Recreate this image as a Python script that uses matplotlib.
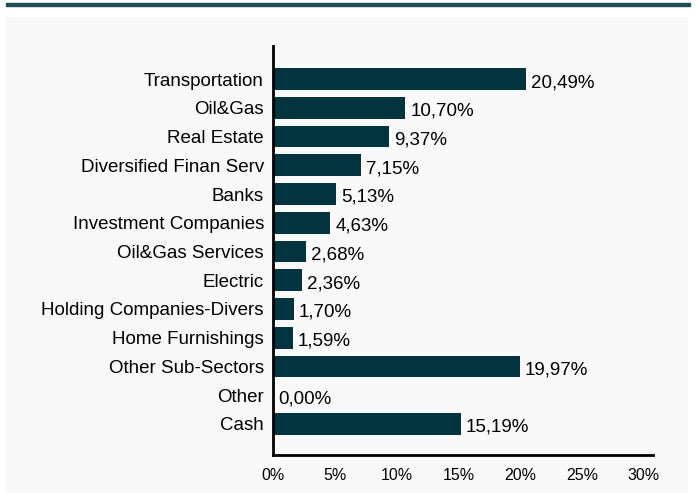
import matplotlib
matplotlib.use("Agg")
import matplotlib.pyplot as plt
from matplotlib.patches import Rectangle

# sector weights (%)
sectors = ["Transportation", "Oil&Gas", "Real Estate", "Diversified Finan Serv", "Banks",
           "Investment Companies", "Oil&Gas Services", "Electric", "Holding Companies-Divers",
           "Home Furnishings", "Other Sub-Sectors", "Other", "Cash"]
weights = [20.49, 10.70, 9.37, 7.15, 5.13, 4.63, 2.68, 2.36, 1.70, 1.59, 19.97, 0.00, 15.19]
xticks = [0, 5, 10, 15, 20, 25, 30]

bar_col = "#023440"
W, H = 697, 493

plt.rcParams['font.family'] = ['Liberation Sans', 'DejaVu Sans']

fig = plt.figure(figsize=(W / 100, H / 100), dpi=100)
fig.patch.set_facecolor("white")

# light panel and top rule
fig.patches.append(Rectangle((6 / W, 0), (687 - 6) / W, (H - 17) / H,
                             transform=fig.transFigure, color="#f9f9f9", zorder=-2))
fig.patches.append(Rectangle((6 / W, 1 - 6 / H), (690 - 6) / W, 3 / H,
                             transform=fig.transFigure, color="#1f4e55", zorder=-1))

ax = fig.add_axes([273 / W, 1 - 455 / H, (653 - 273) / W, (455 - 46) / H])
ax.set_facecolor("none")
ax.set_zorder(2)

y = list(range(len(sectors)))
ax.barh(y, weights, height=0.76, color=bar_col)
for yi, v in zip(y, weights):
    ax.text(v + 0.4, yi + 0.12, f"{v:.2f}%".replace(".", ","), va="center",
            ha="left", fontsize=13.5)

ax.set_yticks(y)
ax.set_yticklabels(sectors, fontsize=13.5)
ax.set_xticks(xticks)
ax.set_xticklabels([f"{t}%" for t in xticks], fontsize=11.5)
ax.set_xlim(0, 30.74)
ax.set_ylim(13.08, -1.15)

for s in ["top", "right"]:
    ax.spines[s].set_visible(False)
for s in ["left", "bottom"]:
    ax.spines[s].set_linewidth(2)
    ax.spines[s].set_color("black")
ax.tick_params(axis="both", length=0)
ax.tick_params(axis="y", pad=6.5)
ax.tick_params(axis="x", pad=9)

fig.savefig("out.png", dpi=100)
